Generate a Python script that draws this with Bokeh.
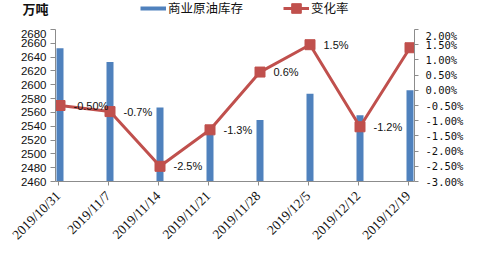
from bokeh.plotting import figure
from bokeh.models import (Range1d, LinearAxis, FixedTicker, PrintfTickFormatter,
                          ColumnDataSource, Legend, LegendItem, Label)
from bokeh.core.properties import value
from bokeh.embed import file_html
from bokeh.resources import INLINE

dates = ["2019/10/31", "2019/11/7", "2019/11/14", "2019/11/21",
         "2019/11/28", "2019/12/5", "2019/12/12", "2019/12/19"]
stock = [2653, 2633, 2567, 2534, 2549, 2587, 2556, 2592]
rate = [-0.50, -0.7, -2.5, -1.3, 0.6, 1.5, -1.2, 1.4]
rate_labels = ["-0.50%", "-0.7%", "-2.5%", "-1.3%", "0.6%", "1.5%", "-1.2%", "1.4%"]
left_ticks = list(range(2460, 2681, 20))
right_ticks = [-3.0, -2.5, -2.0, -1.5, -1.0, -0.5, 0.0, 0.5, 1.0, 1.5, 2.0]
series_names = ["商业原油库存", "变化率"]
unit_text = "万吨"

BLUE = "#4F81BD"
RED = "#C0504D"
AXIS = "#8C8C8C"
TXT = "#111111"

idx = list(range(len(dates)))
xpos = [i + 0.04 for i in idx]
src = ColumnDataSource(dict(x=xpos, stock=stock, rate=rate, lab=rate_labels))

# ---------- header strip: unit + legend ----------
TOP_H = 29
head = figure(width=480, height=TOP_H, output_backend="svg", toolbar_location=None,
              x_range=Range1d(0, 1), y_range=Range1d(0, 1),
              x_axis_location=None, y_axis_location=None,
              min_border_left=0, min_border_right=0, min_border_top=0,
              min_border_bottom=0)
head.outline_line_color = None
head.xgrid.visible = False
head.ygrid.visible = False
# legend-only proxies, placed outside the visible range
bar_proxy = head.line(x=[-5, -4], y=[-5, -5], line_color=BLUE, line_width=4)
line_proxy = head.line(x=[-5, -4], y=[-5, -5], line_color=RED, line_width=3)
mk_proxy = head.scatter(x=[-5], y=[-5], marker="square", fill_color=RED, line_color=RED)
leg = Legend(items=[LegendItem(label=series_names[0], renderers=[bar_proxy]),
                    LegendItem(label=series_names[1], renderers=[line_proxy, mk_proxy])],
             location=(140, TOP_H - 19.5), orientation="horizontal",
             glyph_width=26, glyph_height=24, label_height=24,
             label_standoff=2, padding=0, margin=0, spacing=40,
             border_line_color=None, background_fill_alpha=0,
             label_text_font="Noto Sans CJK SC", label_text_font_size="12.5px",
             label_text_color=TXT, label_text_baseline="middle")
head.add_layout(leg, "center")
head.add_layout(Label(x=22, y=TOP_H - 8, x_units="screen", y_units="screen",
                      text=unit_text, text_font="Noto Sans CJK SC",
                      text_font_size="13px", text_font_style="bold",
                      text_baseline="middle", text_color=TXT))

# ---------- main chart ----------
p = figure(width=480, height=255 - TOP_H, output_backend="svg", toolbar_location=None,
           x_range=Range1d(-0.05, 7.13), y_range=Range1d(2460, 2680),
           min_border_left=55, min_border_right=66, min_border_top=0,
           min_border_bottom=74)
p.outline_line_color = None
p.xgrid.visible = False
p.ygrid.visible = False

p.extra_y_ranges = {"rate": Range1d(-3, 2)}

p.vbar(x="x", top="stock", bottom=2460, width=0.14, source=src,
       fill_color=BLUE, line_color=None)
p.line(x="x", y="rate", source=src, y_range_name="rate",
       line_color=RED, line_width=3)
p.scatter(x="x", y="rate", source=src, y_range_name="rate",
          marker="square", size=10, fill_color=RED, line_color=RED)
p.text(x="x", y="rate", text="lab", source=src, y_range_name="rate",
       x_offset=13.5, text_baseline="middle", text_align="left",
       text_font=value("Liberation Sans"), text_font_size="11px",
       text_color=TXT)

ya = p.yaxis[0]
ya.ticker = FixedTicker(ticks=left_ticks)
ya.axis_line_color = AXIS
ya.major_tick_line_color = AXIS
ya.major_tick_out = 5
ya.major_tick_in = 0
ya.minor_tick_line_color = None
ya.major_label_standoff = 4
ya.major_label_text_font = "Liberation Sans"
ya.major_label_text_font_size = "11.5px"
ya.major_label_text_color = TXT

xa = p.xaxis[0]
xa.ticker = FixedTicker(ticks=idx)
xa.major_label_overrides = {i: d for i, d in zip(idx, dates)}
xa.major_label_orientation = 0.785398
xa.axis_line_color = AXIS
xa.major_tick_line_color = AXIS
xa.major_tick_out = 4
xa.major_tick_in = 0
xa.minor_tick_line_color = None
xa.major_label_standoff = 8
xa.major_label_text_font = "Liberation Serif"
xa.major_label_text_font_size = "13.5px"
xa.major_label_text_color = TXT

ra = LinearAxis(y_range_name="rate", ticker=FixedTicker(ticks=right_ticks),
                formatter=PrintfTickFormatter(format="%.2f%%"))
ra.axis_line_color = AXIS
ra.major_tick_line_color = AXIS
ra.major_tick_out = 4
ra.major_tick_in = 0
ra.minor_tick_line_color = None
ra.major_label_standoff = 7
ra.major_label_text_font = "DejaVu Sans Mono"
ra.major_label_text_font_size = "10.5px"
ra.major_label_text_color = TXT
p.add_layout(ra, "right")

open("out.html", "w").write(file_html([head, p], INLINE))
